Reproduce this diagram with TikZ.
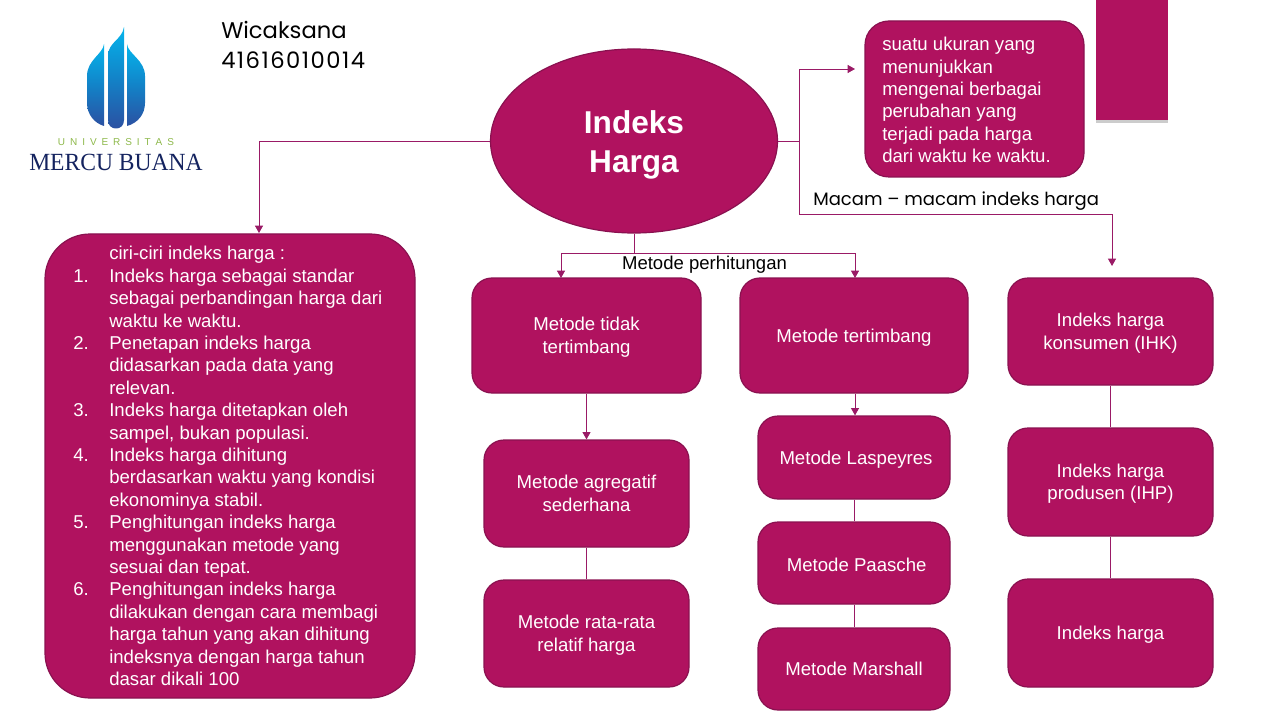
\documentclass[tikz,border=0pt]{standalone}
\usepackage{fontspec}
\usepackage{graphicx}
\setmainfont{Liberation Sans}
\newfontfamily\geofont{Poppins}
\newfontfamily\geonum[LetterSpace=6.5]{Poppins}
\newfontfamily\logofont{Liberation Serif}
\usetikzlibrary{arrows.meta,shapes.geometric,shadows}
\definecolor{mag}{HTML}{B0125F}
\definecolor{magdark}{HTML}{8A1150}
\definecolor{magline}{HTML}{9A1A66}
\definecolor{navy}{HTML}{14235F}
\definecolor{uniGreen}{HTML}{8DB84A}
\definecolor{logoTop}{HTML}{05B5EC}
\definecolor{logoMid}{HTML}{1283C8}
\definecolor{logoBot}{HTML}{2B51A2}
\newcommand{\bt}[2][1.5pt]{\raisebox{-#1}[\height][\depth]{\begin{tabular}{@{}c@{}}#2\end{tabular}}}
\tikzset{
  sz/.style 2 args={minimum width=#1*0.75pt,minimum height=#2*0.75pt},
  box/.style={rectangle,rounded corners=#1*0.75pt,fill=mag,draw=magdark,line width=.9pt,text=white,inner sep=0pt,
    font=\fontsize{13.95}{17}\selectfont},
  box/.default=20,
  conn/.style={draw=magline,line width=.7pt},
  arr/.style={conn,-{Triangle[length=5.5pt,width=6pt]}},
  lbl/.style={inner sep=0pt,text=black},
  logoflame/.style={top color=logoTop,bottom color=logoBot,middle color=logoMid,draw=none}
}
\begin{document}
\begin{tikzpicture}[x=0.75pt,y=-0.75pt]
\useasboundingbox (0,0) rectangle (1280,720);
% logo
\path[logoflame] (124,27) .. controls (122,40) and (108,42) .. (108,56) -- (108,120) .. controls (108,126) and (112,128.5) .. (116,128.5) .. controls (120,128.5) and (124,126) .. (124,120) -- cycle;
\path[logoflame] (104,44) .. controls (103,54) and (87,60) .. (87,76) -- (87,103) .. controls (87,114) and (94,123) .. (104,126) -- cycle;
\path[logoflame] (127,44) .. controls (128,54) and (145,60) .. (145,76) -- (145,103) .. controls (145,114) and (138,123) .. (127,126) -- cycle;
\node[lbl,text=uniGreen,font=\fontsize{7.5}{9}\selectfont] (uni) at (116,142.5) {U\hspace{3.7pt}N\hspace{3.7pt}I\hspace{3.7pt}V\hspace{3.7pt}E\hspace{3.7pt}R\hspace{3.7pt}S\hspace{3.7pt}I\hspace{3.7pt}T\hspace{3.7pt}A\hspace{3.7pt}S};
\node[lbl,text=navy,font=\logofont\fontsize{18.5}{20}\selectfont] (mercu) at (116,162.5) {\scalebox{.955}[1]{MERCU BUANA}};
\node[lbl,anchor=west,font=\geofont\fontsize{17}{19}\selectfont] (nama) at (221,30) {Wicaksana};
\node[lbl,anchor=west,font=\geonum\fontsize{17}{19}\selectfont] (nim) at (221,60) {41616010014};
% nodes
\node[ellipse,fill=mag,draw=magdark,line width=.9pt,sz={287}{184},text=white,inner sep=0pt,font=\bfseries\fontsize{23.7}{29}\selectfont] (ell) at (634,141) {\bt[3pt]{Indeks\\Harga}};
\node[box=24,sz={219}{156}] (def) at (974.5,99) {};
\node[lbl,text=white,anchor=west,align=left,font=\fontsize{13.95}{16.8}\selectfont] (deft) at (882,100) {suatu ukuran yang\\menunjukkan\\mengenai berbagai\\perubahan yang\\terjadi pada harga\\dari waktu ke waktu.};
\node[rectangle,fill=mag,sz={72}{120},inner sep=0pt,drop shadow={shadow xshift=0pt,shadow yshift=-2pt,opacity=.4}] (rect) at (1132,60) {};
\node[box=45,sz={370}{464}] (ciri) at (230,466) {};
\node[lbl,text=white,anchor=west,align=left,font=\fontsize{13.95}{16.8}\selectfont] (cirit) at (73,466) {%
\makebox[27pt][l]{}ciri-ciri indeks harga :\\
\makebox[27pt][l]{1.}Indeks harga sebagai standar\\
\makebox[27pt][l]{}sebagai perbandingan harga dari\\
\makebox[27pt][l]{}waktu ke waktu.\\
\makebox[27pt][l]{2.}Penetapan indeks harga\\
\makebox[27pt][l]{}didasarkan pada data yang\\
\makebox[27pt][l]{}relevan.\\
\makebox[27pt][l]{3.}Indeks harga ditetapkan oleh\\
\makebox[27pt][l]{}sampel, bukan populasi.\\
\makebox[27pt][l]{4.}Indeks harga dihitung\\
\makebox[27pt][l]{}berdasarkan waktu yang kondisi\\
\makebox[27pt][l]{}ekonominya stabil.\\
\makebox[27pt][l]{5.}Penghitungan indeks harga\\
\makebox[27pt][l]{}menggunakan metode yang\\
\makebox[27pt][l]{}sesuai dan tepat.\\
\makebox[27pt][l]{6.}Penghitungan indeks harga\\
\makebox[27pt][l]{}dilakukan dengan cara membagi\\
\makebox[27pt][l]{}harga tahun yang akan dihitung\\
\makebox[27pt][l]{}indeksnya dengan harga tahun\\
\makebox[27pt][l]{}dasar dikali 100};
\node[box,sz={229}{115}] (tidak) at (586.5,335.5) {\bt{Metode tidak\\tertimbang}};
\node[box,sz={228}{115}] (timbang) at (854,335.5) {\bt{Metode tertimbang}};
\node[box,sz={205}{107}] (agre) at (586.5,493.5) {\bt[1.5pt]{Metode agregatif\\sederhana}};
\node[box,sz={205}{107}] (rata) at (586.5,633.5) {\bt{Metode rata-rata\\relatif harga}};
\node[box,sz={192}{83}] (lasp) at (854,457.5) {\hspace*{3pt}\bt{Metode Laspeyres}};
\node[box,sz={192}{82}] (paas) at (854,563) {\hspace*{4pt}\bt[3pt]{Metode Paasche}};
\node[box,sz={192}{82}] (mars) at (854,669) {\bt[1.5pt]{Metode Marshall}};
\node[box,sz={205}{107}] (ihk) at (1110.5,331.5) {\bt{Indeks harga\\konsumen (IHK)}};
\node[box,sz={205}{108}] (ihp) at (1110.5,482) {\bt{Indeks harga\\produsen (IHP)}};
\node[box,sz={205}{108}] (ih) at (1110.5,633) {\bt{Indeks harga}};
\node[lbl,font=\fontsize{13.9}{16}\selectfont] (lbm) at (704.5,264.5) {Metode perhitungan};
\node[lbl,anchor=west,font=\geofont\fontsize{13.5}{16}\selectfont] (lbmc) at (813,201) {Macam – macam indeks harga};
% free ends
\coordinate (tipL) at (259,233);
\coordinate (tipD) at (855,69);
\coordinate (hubR) at (799,141);
\coordinate (hubR2) at (799,214);
\coordinate (tipM) at (1112,266);
\coordinate (hubB) at (634,253);
\coordinate (t1) at (561,278);
\coordinate (t2) at (855,278);
% connectors
\draw[arr] (ell.west) -| (tipL);
\draw[conn] (ell.east) -- (hubR);
\draw[arr] (hubR) |- (tipD);
\draw[arr] (hubR) -- (hubR2) -| (tipM);
\draw[conn] (ell.south) -- (hubB);
\draw[arr] (hubB) -| (t1);
\draw[arr] (hubB) -| (t2);
\draw[arr] (tidak.south) -- (agre.north);
\draw[arr] (timbang.south -| t2) -- (lasp.north -| t2);
\draw[conn] (agre.south) -- (rata.north);
\draw[conn] (lasp.south) -- (paas.north);
\draw[conn] (paas.south) -- (mars.north);
\draw[conn] (ihk.south) -- (ihp.north);
\draw[conn] (ihp.south) -- (ih.north);
\end{tikzpicture}
\end{document}
